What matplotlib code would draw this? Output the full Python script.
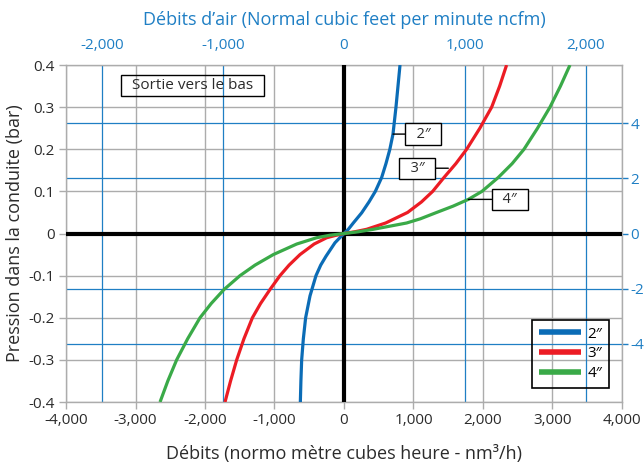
import matplotlib
matplotlib.use("Agg")
import matplotlib.pyplot as plt

plt.rcParams["font.family"] = ["Open Sans", "DejaVu Sans"]

# --- data (flow nm3/h, pressure bar) ---
flow_2in = [-628, -620, -609, -585, -552, -489, -403, -335, -259, -130, -60, 0,
            62, 134, 254, 360, 451, 542, 604, 660, 705, 748, 777, 806]
pres_2in = [-0.4, -0.35, -0.3, -0.25, -0.2, -0.148, -0.1, -0.075, -0.054, -0.022, -0.01, 0,
            0.01, 0.025, 0.049, 0.075, 0.1, 0.133, 0.166, 0.2, 0.236, 0.3, 0.35, 0.4]

flow_3in = [-1712, -1632, -1544, -1440, -1318, -1200, -1065, -921, -790, -633, -430, -249, -110, 0,
            150, 326, 600, 915, 1115, 1276, 1439, 1610, 1765, 1955, 2125, 2240, 2340]
pres_3in = [-0.4, -0.35, -0.3, -0.25, -0.2, -0.166, -0.133, -0.1, -0.075, -0.05, -0.025, -0.01, -0.004, 0,
            0.004, 0.01, 0.025, 0.05, 0.075, 0.1, 0.133, 0.166, 0.2, 0.25, 0.3, 0.35, 0.4]

flow_4in = [-2647, -2535, -2408, -2250, -2072, -1910, -1727, -1496, -1280, -1017, -681, -393, -200, 0,
            200, 422, 902, 1100, 1333, 1570, 1789, 1985, 2220, 2420, 2590, 2785, 2964, 3115, 3252]
pres_4in = [-0.4, -0.35, -0.3, -0.25, -0.2, -0.166, -0.133, -0.1, -0.075, -0.05, -0.025, -0.01, -0.004, 0,
            0.004, 0.01, 0.025, 0.035, 0.05, 0.065, 0.081, 0.1, 0.133, 0.166, 0.2, 0.25, 0.3, 0.35, 0.4]

series_labels = ["2″", "3″", "4″"]
series_colors = ["#0b6cb6", "#ec1c24", "#3aaa48"]

x_ticks = [-4000, -3000, -2000, -1000, 0, 1000, 2000, 3000, 4000]
y_ticks = [-0.4, -0.3, -0.2, -0.1, 0, 0.1, 0.2, 0.3, 0.4]
y_ticklabels = ["-0.4", "-0.3", "-0.2", "-0.1", "0", "0.1", "0.2", "0.3", "0.4"]
cfm_ticks = [-2000, -1000, 0, 1000, 2000]
psi_ticks = [-4, -2, 0, 2, 4]

M3H_PER_CFM = 1.74
PSI_PER_BAR = 15.3

BLUE = "#1f7fc4"
GRAY = "#acacac"
TXT = "#2b2b2b"

fig = plt.figure(figsize=(6.44, 4.66), dpi=100)
ax = fig.add_axes([0.1025, 0.1373, 0.8633, 0.7232])

ax.set_xlim(-4000, 4000)
ax.set_ylim(-0.4, 0.4)

# grids
for xv in x_ticks:
    ax.axvline(xv, color=GRAY, lw=1.0, zorder=1)
for yv in y_ticks:
    ax.axhline(yv, color=GRAY, lw=1.0, zorder=1)
for c in cfm_ticks:
    if c != 0:
        ax.axvline(c * M3H_PER_CFM, color=BLUE, lw=0.9, zorder=2)
for p in psi_ticks:
    if p != 0:
        ax.axhline(p / PSI_PER_BAR, color=BLUE, lw=0.9, zorder=2)

ax.axhline(0, color="black", lw=3, zorder=3)
ax.axvline(0, color="black", lw=3, zorder=3)

flows = [flow_2in, flow_3in, flow_4in]
pressures = [pres_2in, pres_3in, pres_4in]
for fl, pr, lab, col in zip(flows, pressures, series_labels, series_colors):
    ax.plot(fl, pr, color=col, lw=2.3, label=lab, zorder=4,
            solid_capstyle="butt", solid_joinstyle="round")

ax.set_xticks(x_ticks)
ax.set_xticklabels([f"{v:,}" for v in x_ticks])
ax.set_yticks(y_ticks)
ax.set_yticklabels(y_ticklabels)
ax.tick_params(axis="both", colors=GRAY, length=5, width=1, labelcolor=TXT, labelsize=11, pad=3)
for s in ax.spines.values():
    s.set_color(GRAY)
    s.set_linewidth(1.0)

ax.set_xlabel("Débits (normo mètre cubes heure - nm³/h)", fontsize=13, color=TXT, labelpad=12)
ax.set_ylabel("Pression dans la conduite (bar)", fontsize=13, color=TXT, labelpad=3)

# top axis in ncfm
top = ax.secondary_xaxis("top", functions=(lambda x: x / M3H_PER_CFM, lambda x: x * M3H_PER_CFM))
top.set_xticks(cfm_ticks)
top.set_xticklabels([f"{v:,}" for v in cfm_ticks])
top.tick_params(length=0, labelcolor=BLUE, labelsize=11, pad=9)
top.spines["top"].set_visible(False)
top.set_xlabel("Débits d’air (Normal cubic feet per minute ncfm)", fontsize=13, color=BLUE, labelpad=9)

# right axis in psi
right = ax.secondary_yaxis("right", functions=(lambda b: b * PSI_PER_BAR, lambda p: p / PSI_PER_BAR))
right.set_yticks(psi_ticks)
right.set_yticklabels([str(v) for v in psi_ticks])
right.tick_params(colors=BLUE, length=4, width=1, labelcolor=BLUE, labelsize=11, pad=2)
right.spines["right"].set_visible(False)

# labels on curves
box = dict(boxstyle="square,pad=0.22", fc="white", ec="black", lw=1)
line = dict(arrowstyle="-", color="black", lw=1, shrinkA=0, shrinkB=0)
ax.annotate("  2″  ", xy=(705, 0.236), xytext=(1141, 0.236), ha="center", va="center",
            fontsize=10.5, color=TXT, bbox=box, arrowprops=line, zorder=6)
ax.annotate("  3″  ", xy=(1501, 0.155), xytext=(1055, 0.155), ha="center", va="center",
            fontsize=10.5, color=TXT, bbox=box, arrowprops=line, zorder=6)
ax.annotate("  4″  ", xy=(1789, 0.081), xytext=(2388, 0.081), ha="center", va="center",
            fontsize=10.5, color=TXT, bbox=box, arrowprops=line, zorder=6)

ax.text(-2181, 0.352, "  Sortie vers le bas  ", ha="center", va="center", fontsize=11,
        color=TXT, bbox=dict(boxstyle="square,pad=0.2", fc="none", ec="black", lw=1), zorder=6)

leg = ax.legend(loc="lower right", bbox_to_anchor=(0.977, 0.042), borderaxespad=0,
                fancybox=False, edgecolor="black", framealpha=1, facecolor="none",
                fontsize=11, handlelength=2.8, handletextpad=0.4, labelspacing=0.3,
                borderpad=0.45)
leg.get_frame().set_linewidth(1.2)
for h in leg.get_lines():
    h.set_linewidth(4)
leg.set_zorder(7)

fig.savefig("out.png", dpi=100)
